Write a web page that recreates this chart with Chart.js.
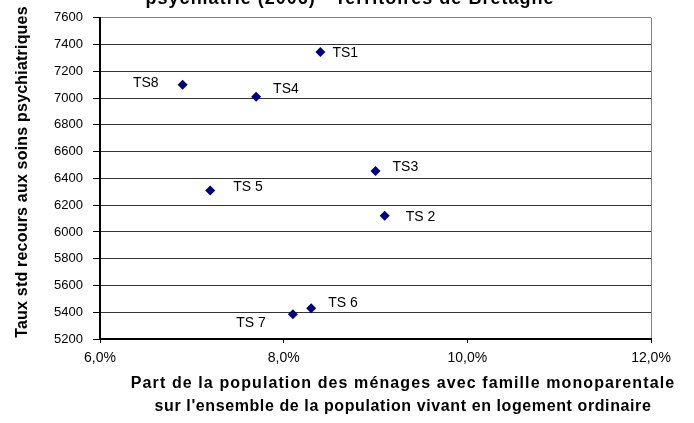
<!DOCTYPE html>
<html>
<head>
<meta charset="utf-8">
<script src="https://cdn.jsdelivr.net/npm/chart.js@4/dist/chart.umd.min.js"></script>
<style>
  html, body { margin: 0; padding: 0; background: #fff; overflow: hidden; }
  #wrap { width: 694px; height: 423px; position: relative; }
</style>
</head>
<body>
<div id="wrap"><canvas id="scatterChart" width="694" height="423"></canvas></div>
<script>
// territoires de sante
const territories = ['TS1', 'TS 2', 'TS3', 'TS4', 'TS 5', 'TS 6', 'TS 7', 'TS8'];
// part des menages monoparentaux (%)
const shareMonoparental = [8.4, 9.1, 9.0, 7.7, 7.2, 8.3, 8.1, 6.9];
// taux std de recours aux soins psychiatriques
const recoursRate = [7345, 6120, 6455, 7010, 6310, 5430, 5385, 7100];
const yTicks = [5200, 5400, 5600, 5800, 6000, 6200, 6400, 6600, 6800, 7000, 7200, 7400, 7600];
const xTicks = [6, 8, 10, 12];

// where each label sits next to its point (dx, dy, align)
const labelPlace = [
  [12, 1, 'left'], [21, 1, 'left'], [17, -4, 'left'], [17, -8, 'left'],
  [23, -3, 'left'], [17, -5, 'left'], [-27, 9, 'right'], [-24, -2, 'right']
];

const FONT = "'Liberation Sans', Arial, sans-serif";

const labelsPlugin = {
  id: 'labelsPlugin',
  afterDraw(chart) {
    const ctx = chart.ctx;
    const xs = chart.scales.x, ys = chart.scales.y;
    ctx.save();
    ctx.fillStyle = '#000';

    // point labels
    ctx.font = '14px ' + FONT;
    ctx.textBaseline = 'middle';
    territories.forEach((t, i) => {
      const px = xs.getPixelForValue(shareMonoparental[i]);
      const py = ys.getPixelForValue(recoursRate[i]);
      const p = labelPlace[i];
      ctx.textAlign = p[2];
      ctx.fillText(t, px + p[0], py + p[1]);
    });

    // chart title (top is cut off in the original)
    ctx.font = 'bold 18px ' + FONT;
    ctx.textAlign = 'center';
    ctx.textBaseline = 'alphabetic';
    ctx.letterSpacing = '1px';
    ctx.fillText('psychiatrie (2006) - Territoires de Bretagne', 350, 4);

    // x axis title
    ctx.font = 'bold 16px ' + FONT;
    ctx.textBaseline = 'middle';
    ctx.letterSpacing = '1.1px';
    ctx.fillText('Part de la population des ménages avec famille monoparentale', 403, 384);
    ctx.letterSpacing = '0.6px';
    ctx.fillText("sur l'ensemble de la population vivant en logement ordinaire", 403, 407);

    // y axis title
    ctx.letterSpacing = '0.2px';
    ctx.translate(23, 172);
    ctx.rotate(-Math.PI / 2);
    ctx.fillText('Taux std recours aux soins psychiatriques', 0, 0);
    ctx.restore();
  }
};

new Chart(document.getElementById('scatterChart'), {
  type: 'scatter',
  data: {
    datasets: [{
      data: shareMonoparental.map((x, i) => ({ x: x, y: recoursRate[i] })),
      pointStyle: 'rectRot',
      pointRadius: 5,
      pointHoverRadius: 5,
      backgroundColor: '#000080',
      borderColor: '#000080',
      borderWidth: 0
    }]
  },
  options: {
    responsive: false,
    animation: false,
    devicePixelRatio: 1,
    layout: { padding: { top: 16, right: 43, bottom: 0, left: 0 } },
    plugins: {
      legend: { display: false },
      tooltip: { enabled: false },
      title: { display: false }
    },
    scales: {
      x: {
        type: 'linear',
        min: 6, max: 12,
        afterBuildTicks: axis => { axis.ticks = xTicks.map(v => ({ value: v })); },
        afterFit: axis => { axis.height = 84; },
        ticks: {
          color: '#000',
          font: { family: FONT, size: 14 },
          padding: 7,
          maxRotation: 0,
          callback: v => v.toFixed(1).replace('.', ',') + '%'
        },
        grid: {
          color: c => (c.tick && c.tick.value === 12) ? '#808080' : 'rgba(0,0,0,0)',
          tickColor: '#000',
          tickLength: 4,
          lineWidth: 1
        },
        border: { color: '#000', width: 2 }
      },
      y: {
        type: 'linear',
        min: 5200, max: 7600,
        afterBuildTicks: axis => { axis.ticks = yTicks.map(v => ({ value: v })); },
        afterFit: axis => { axis.width = 100; },
        ticks: {
          color: '#000',
          font: { family: FONT, size: 13 },
          padding: 10,
          callback: v => String(v)
        },
        grid: {
          color: c => (c.tick && c.tick.value === 7600) ? '#808080' : '#333',
          tickColor: '#000',
          tickLength: 7,
          lineWidth: 1
        },
        border: { color: '#000', width: 2 }
      }
    }
  },
  plugins: [labelsPlugin]
});
</script>
</body>
</html>
